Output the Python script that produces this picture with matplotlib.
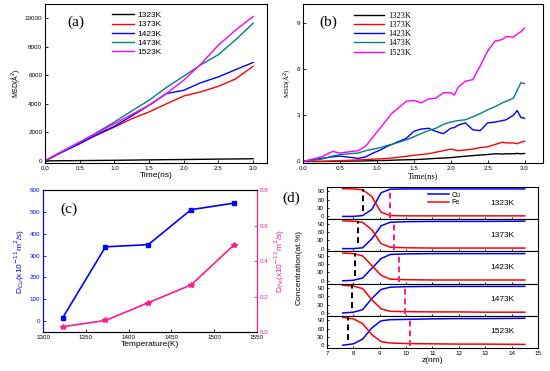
import matplotlib
matplotlib.use("Agg")
import matplotlib.pyplot as plt

plt.rcParams['font.family'] = ['Liberation Sans', 'DejaVu Sans']
plt.rcParams['font.size'] = 5
plt.rcParams['axes.linewidth'] = 0.8

temps = ["1323K", "1373K", "1423K", "1473K", "1523K"]
colors = ["black", "red", "blue", "#008080", "magenta"]

# (a) MSD of Cu
a_t = [0.0, 0.25, 0.5, 0.75, 1.0, 1.25, 1.5, 1.75, 2.0, 2.25, 2.5, 2.75, 3.0]
a_msd = [
    [0, 10, 20, 30, 40, 55, 70, 85, 95, 110, 125, 135, 150],
    [0, 640, 1270, 1820, 2370, 2950, 3430, 4000, 4550, 4850, 5230, 5750, 6640],
    [0, 620, 1200, 1850, 2420, 3150, 3900, 4720, 4950, 5490, 5890, 6400, 6900],
    [0, 660, 1310, 2000, 2720, 3500, 4250, 5150, 5940, 6750, 7450, 8500, 9650],
    [0, 680, 1310, 1950, 2600, 3250, 3900, 4720, 5660, 6800, 8120, 9180, 10120],
]

# (b) MSD of Fe
b_t = [0.0, 0.25, 0.4, 0.5, 0.75, 0.85, 0.95, 1.05, 1.15, 1.2, 1.3, 1.4, 1.5, 1.6,
       1.7, 1.8, 1.9, 2.0, 2.05, 2.1, 2.2, 2.3, 2.4, 2.5, 2.6, 2.7, 2.75, 2.85,
       2.9, 2.95, 3.0]
b_msd = [
    [0, 0.0, 0.01, 0.02, 0.03, 0.04, 0.05, 0.06, 0.07, 0.08, 0.1, 0.11, 0.12, 0.14,
     0.17, 0.2, 0.22, 0.25, 0.27, 0.3, 0.34, 0.38, 0.42, 0.45, 0.5, 0.48, 0.5, 0.5,
     0.52, 0.5, 0.52],
    [0, 0.01, 0.03, 0.05, 0.1, 0.12, 0.15, 0.17, 0.2, 0.22, 0.28, 0.33, 0.4, 0.45,
     0.5, 0.6, 0.7, 0.8, 0.75, 0.7, 0.75, 0.8, 0.9, 0.95, 1.1, 1.25, 1.2, 1.2,
     1.15, 1.25, 1.3],
    [0, 0.2, 0.3, 0.35, 0.2, 0.3, 0.55, 0.75, 1.0, 1.1, 1.3, 1.5, 1.95, 2.1,
     2.15, 1.95, 1.8, 2.15, 2.2, 2.35, 2.5, 2.05, 2.0, 2.5, 2.55, 2.65, 2.7, 3.0,
     3.3, 2.85, 2.8],
    [0, 0.15, 0.35, 0.45, 0.55, 0.7, 0.8, 0.9, 1.05, 1.1, 1.25, 1.4, 1.6, 1.8,
     2.0, 2.15, 2.4, 2.55, 2.6, 2.65, 2.7, 2.9, 3.1, 3.35, 3.55, 3.8, 3.9, 4.1,
     4.6, 5.1, 5.05],
    [0, 0.3, 0.65, 0.55, 0.7, 1.0, 1.6, 2.2, 2.8, 3.1, 3.5, 3.9, 3.95, 3.8,
     4.05, 4.1, 4.45, 4.45, 4.3, 4.8, 5.2, 5.3, 6.2, 7.15, 7.8, 7.9, 8.1, 8.05,
     8.25, 8.4, 8.65],
]

# (c) diffusion coefficients
c_temp = [1323, 1373, 1423, 1473, 1523]
d_cu = [15, 340, 350, 510, 540]
d_fe = [0.03, 0.065, 0.165, 0.265, 0.49]

# (d) concentration profiles
d_z = [7.6, 8.0, 8.35, 8.7, 9.05, 9.4, 10.0, 11.0, 12.0, 13.0, 14.5]
d_cu_prof = [
    [0, 0, 3, 25, 85, 98, 99, 99, 99, 99, 99],
    [0, 0, 3, 35, 82, 95, 97, 98, 98, 98, 99],
    [0, 2, 10, 45, 80, 95, 97, 98, 98, 98, 98],
    [0, 3, 12, 52, 85, 93, 95, 96, 96, 96, 96],
    [0, 5, 22, 62, 88, 92, 93, 95, 96, 96, 97],
]
d_fe_prof = [
    [100, 99, 96, 72, 15, 3, 2, 2, 2, 2, 2],
    [100, 99, 95, 68, 18, 5, 3, 2, 2, 2, 2],
    [100, 98, 90, 55, 20, 6, 4, 3, 3, 3, 3],
    [100, 97, 88, 48, 15, 6, 5, 4, 4, 3, 3],
    [100, 95, 78, 38, 13, 8, 6, 5, 4, 4, 3],
]
d_black = [8.35, 8.19, 8.06, 7.96, 7.81]
d_pink = [9.39, 9.54, 9.73, 9.94, 10.13]

fig = plt.figure(figsize=(5.5, 3.71), dpi=100)

def style(ax):
    ax.tick_params(direction='in', length=2, width=0.6, labelsize=4.5, pad=2)

# (a)
ax_a = fig.add_axes([0.0818, 0.5606, 0.4036, 0.4286])
for i in range(5):
    ax_a.plot(a_t, a_msd[i], color=colors[i], lw=1.0, label=temps[i])
ax_a.set_xlim(0, 3.2)
ax_a.set_ylim(-150, 11000)
ax_a.set_xticks([0.0, 0.5, 1.0, 1.5, 2.0, 2.5, 3.0])
ax_a.set_yticks([0, 2000, 4000, 6000, 8000, 10000])
ax_a.set_xlabel("Time(ns)", fontsize=6, labelpad=1)
ax_a.set_ylabel("MSD(Å$^2$)", fontsize=5, labelpad=2)
ax_a.text(0.1, 0.86, "(a)", transform=ax_a.transAxes, fontsize=11, family='Liberation Serif')
ax_a.legend(loc='upper left', bbox_to_anchor=(0.27, 1.0), frameon=False, fontsize=6,
            handlelength=2.6, labelspacing=0.15, handletextpad=0.4)
style(ax_a)

# (b)
ax_b = fig.add_axes([0.5509, 0.5606, 0.4364, 0.4286])
for i in range(5):
    ax_b.plot(b_t, b_msd[i], color=colors[i], lw=1.0, label=temps[i])
ax_b.set_xlim(0, 3.25)
ax_b.set_ylim(-0.1, 10.2)
ax_b.set_xticks([0.0, 0.5, 1.0, 1.5, 2.0, 2.5, 3.0])
ax_b.set_yticks([0, 3, 6, 9])
ax_b.set_xlabel("Time(ns)", fontsize=6, labelpad=1, family='Liberation Serif')
ax_b.set_ylabel("MSD(Å$^2$)", fontsize=5, labelpad=2, family='Liberation Serif')
ax_b.text(0.07, 0.86, "(b)", transform=ax_b.transAxes, fontsize=11, family='Liberation Serif')
ax_b.legend(loc='upper left', bbox_to_anchor=(0.18, 1.0), frameon=False,
            prop={'family': 'Liberation Serif', 'size': 6},
            handlelength=3.6, labelspacing=0.15, handletextpad=0.5)
style(ax_b)

# (c)
pink = "#ff1a8c"
ax_c = fig.add_axes([0.0782, 0.1051, 0.389, 0.3827])
ax_c.plot(c_temp, d_cu, color='blue', marker='s', ms=3, lw=1.2)
ax_c.set_xlim(1300, 1550)
ax_c.set_ylim(-50, 600)
ax_c.set_yticks([0, 100, 200, 300, 400, 500, 600])
ax_c.set_xlabel("Temperature(K)", fontsize=6, labelpad=1)
ax_c.set_ylabel("D$_{Cu}$(x10$^{-11}$m$^2$/s)", fontsize=6, color='blue', labelpad=2)
ax_c.text(0.08, 0.84, "(c)", transform=ax_c.transAxes, fontsize=11, family='Liberation Serif')
style(ax_c)
ax_c.tick_params(axis='y', colors='blue')
ax_c.spines['left'].set_color('blue')
ax_c2 = ax_c.twinx()
ax_c2.plot(c_temp, d_fe, color=pink, marker='*', ms=4, lw=1.2)
ax_c2.set_ylim(0, 0.8)
ax_c2.set_yticks([0.0, 0.2, 0.4, 0.6, 0.8])
ax_c2.set_ylabel("D$_{Fe}$(x10$^{-11}$m$^2$/s)", fontsize=6, color=pink, labelpad=3)
style(ax_c2)
ax_c2.tick_params(axis='y', colors=pink)
ax_c2.spines['right'].set_color(pink)
ax_c2.spines['left'].set_color('blue')

# (d)
h = 0.434 / 5
d_axes = []
for i in range(5):
    ax = fig.add_axes([0.5945, 0.062 + (4 - i) * h, 0.3836, h])
    ax.plot(d_z, d_cu_prof[i], color='blue', lw=1.1, label="Cu")
    ax.plot(d_z, d_fe_prof[i], color='red', lw=1.1, label="Fe")
    ax.axvline(d_black[i], ymin=0.25, ymax=0.95, color='black', ls=(0, (3, 2)), lw=1.4)
    ax.axvline(d_pink[i], ymin=0.05, ymax=0.95, color=pink, ls=(0, (3, 2)), lw=1.4)
    ax.set_xlim(7, 15)
    ax.set_ylim(-10, 106)
    ax.set_yticks([0, 30, 60, 90])
    ax.text(0.83, 0.5, temps[i], transform=ax.transAxes, fontsize=6, ha='center', va='center')
    style(ax)
    ax.tick_params(labelsize=4.5, length=1.5)
    if i < 4:
        ax.tick_params(labelbottom=False)
    d_axes.append(ax)
d_axes[0].legend(loc='upper left', bbox_to_anchor=(0.45, 1.05), frameon=False, fontsize=5,
                 handlelength=3.0, labelspacing=0.1, handletextpad=0.4)
d_axes[0].text(-0.21, 0.55, "(d)", transform=d_axes[0].transAxes, fontsize=11,
               family='Liberation Serif')
d_axes[4].set_xticks(range(7, 16))
d_axes[4].set_xlabel("z(nm)", fontsize=6, labelpad=1)
fig.text(0.543, 0.062 + 0.434 / 2, "Concentration(at.%)", rotation=90, fontsize=6,
         ha='center', va='center')

fig.savefig("out.png", dpi=100)
